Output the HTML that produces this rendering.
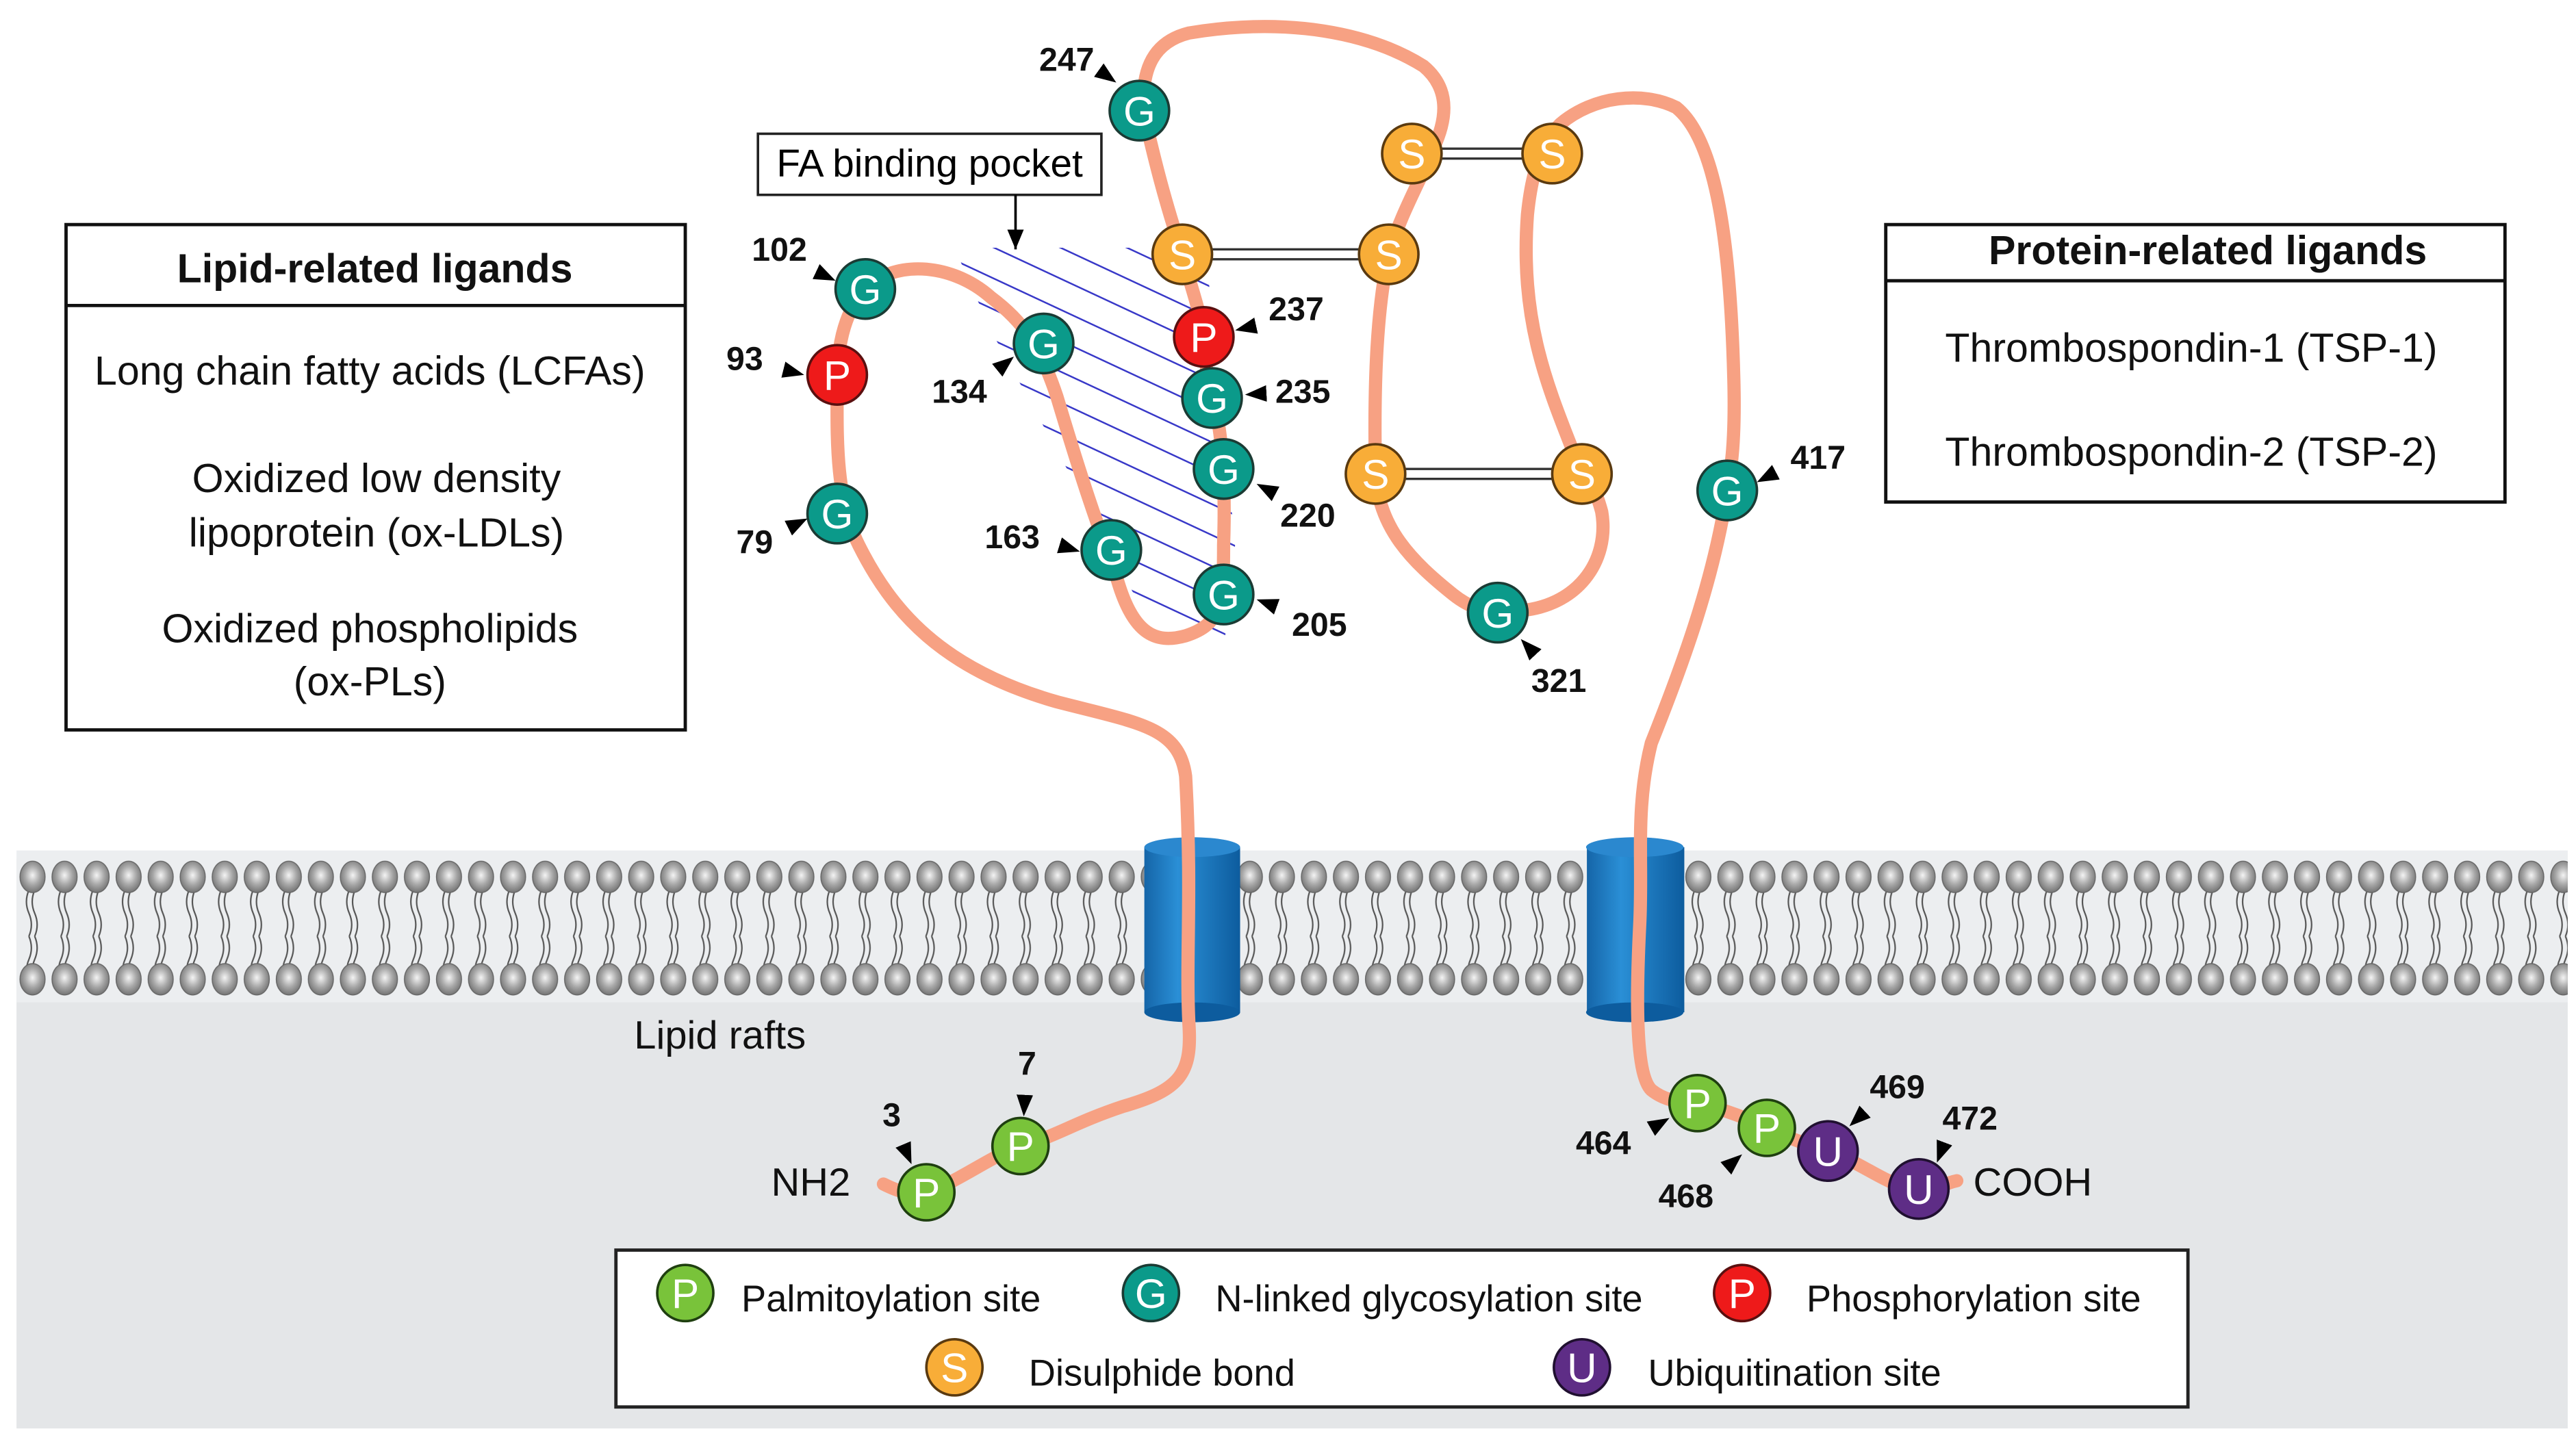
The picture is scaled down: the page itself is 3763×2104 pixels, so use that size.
<!DOCTYPE html>
<html><head><meta charset="utf-8"><style>html,body{margin:0;padding:0;background:#fff}svg{display:block}</style></head>
<body>
<svg width="3763" height="2104" viewBox="0 0 1560 872" preserveAspectRatio="none" xmlns="http://www.w3.org/2000/svg" font-family="'Liberation Sans', Arial, sans-serif">
<defs>
<radialGradient id="hd" cx="0.5" cy="0.45" r="0.6"><stop offset="0" stop-color="#f4f4f4"/><stop offset="0.5" stop-color="#a8a8a8"/><stop offset="1" stop-color="#6a6a6a"/></radialGradient>
<pattern id="mem" x="10" y="515" width="19.4" height="92" patternUnits="userSpaceOnUse">
<path d="M7.5,24 q-3,7 0,14 t0,14 M11,24 q-3,7 0,14 t0,14 M7.5,52 q3,7 0,14 t0,14 M11,52 q3,7 0,14 t0,14" fill="none" stroke="#555" stroke-width="0.9"/>
<ellipse cx="9.7" cy="16" rx="7.6" ry="9.5" fill="url(#hd)" stroke="#666" stroke-width="0.6"/>
<ellipse cx="9.7" cy="78" rx="7.6" ry="9.5" fill="url(#hd)" stroke="#666" stroke-width="0.6"/>
</pattern>
<linearGradient id="cyl" x1="0" x2="1"><stop offset="0" stop-color="#1565a8"/><stop offset="0.35" stop-color="#2a8fd6"/><stop offset="1" stop-color="#0d5c9e"/></linearGradient>
<marker id="ar" markerUnits="userSpaceOnUse" markerWidth="13" markerHeight="10" refX="13" refY="5" orient="auto"><path d="M0,0 L13,5 L0,10 z" fill="#000"/></marker>
<marker id="ar2" markerUnits="userSpaceOnUse" markerWidth="12" markerHeight="10" refX="12" refY="5" orient="auto"><path d="M0,0 L12,5 L0,10 z" fill="#000"/></marker>
<pattern id="hat" width="400" height="17" patternUnits="userSpaceOnUse" patternTransform="rotate(25)"><line x1="0" y1="0.5" x2="400" y2="0.5" stroke="#3838c8" stroke-width="1"/></pattern>
<clipPath id="pk"><polygon points="578,150 730,150 748,330 742,385 700,385 655,300 600,200"/></clipPath>
</defs>

<rect x="10" y="520" width="1545" height="345" fill="#e4e6e8"/>
<rect x="10" y="515" width="1545" height="92" fill="#eceef0"/>
<rect x="10" y="515" width="1545" height="92" fill="url(#mem)"/>

<rect x="560" y="140" width="200" height="260" fill="url(#hat)" clip-path="url(#pk)"/>

<g>
<rect x="693" y="513" width="58" height="100" fill="url(#cyl)"/>
<ellipse cx="722" cy="613" rx="29" ry="6" fill="#0d5c9e"/>
<ellipse cx="722" cy="513" rx="29" ry="6" fill="#2b88cf"/>
<rect x="961" y="513" width="59" height="100" fill="url(#cyl)"/>
<ellipse cx="990" cy="613" rx="29.5" ry="6" fill="#0d5c9e"/>
<ellipse cx="990" cy="513" rx="29.5" ry="6" fill="#2b88cf"/>
</g>

<path d="M535,717 C545,722 552,724 561,722 C580,716 600,700 618,694 C640,688 650,680 680,670 C715,660 722,650 720,620 C718,580 722,540 718,470 C714,440 690,438 640,425 C570,405 540,370 520,330 C505,300 507,260 507,227 C508,200 515,185 524,175 C540,158 575,158 600,180 C620,195 630,210 640,240 C655,290 665,320 675,345 C685,385 700,390 718,385 C740,378 741,365 741,330 C742,300 741,260 734,241 C730,225 730,215 729,204 C726,185 720,170 716,154 C705,120 700,100 693,70 C690,40 700,25 720,20 C780,10 830,20 862,40 C880,55 875,75 868,90 C860,110 848,130 841,154 C833,190 832,240 833,287 C835,320 855,340 880,360 C895,372 905,370 918,370 C955,368 975,340 970,310 C966,295 962,290 958,287 C940,240 920,200 925,130 C928,100 935,85 945,75 C965,58 995,55 1015,65 C1040,85 1048,150 1050,230 C1051,270 1048,285 1046,297 C1038,350 1020,400 1000,450 C990,490 995,520 993,560 C991,600 990,650 1000,660 C1010,668 1020,667 1028,668 C1045,672 1060,678 1070,683 C1085,690 1097,694 1107,697 C1130,705 1145,720 1162,720 C1172,720 1180,716 1185,715" fill="none" stroke="#f7a183" stroke-width="8" stroke-linecap="round"/>

<g stroke="#333" stroke-width="1.4">
<line x1="855" y1="90" x2="940" y2="90"/><line x1="855" y1="96" x2="940" y2="96"/>
<line x1="716" y1="151" x2="841" y2="151"/><line x1="716" y1="157" x2="841" y2="157"/>
<line x1="833" y1="284" x2="958" y2="284"/><line x1="833" y1="290" x2="958" y2="290"/>
</g>

<g font-size="25" text-anchor="middle" fill="#fff">
<g stroke="#1b3b34" stroke-width="1.5">
<circle cx="690" cy="67" r="18" fill="#0b9a8a"/>
<circle cx="524" cy="175" r="18" fill="#0b9a8a"/>
<circle cx="632" cy="208" r="18" fill="#0b9a8a"/>
<circle cx="507" cy="311" r="18" fill="#0b9a8a"/>
<circle cx="734" cy="241" r="18" fill="#0b9a8a"/>
<circle cx="741" cy="284" r="18" fill="#0b9a8a"/>
<circle cx="673" cy="333" r="18" fill="#0b9a8a"/>
<circle cx="741" cy="360" r="18" fill="#0b9a8a"/>
<circle cx="907" cy="371" r="18" fill="#0b9a8a"/>
<circle cx="1046" cy="297" r="18" fill="#0b9a8a"/>
<circle cx="507" cy="227" r="18" fill="#ee1a1a" stroke="#5a1010"/>
<circle cx="729" cy="204" r="18" fill="#ee1a1a" stroke="#5a1010"/>
<circle cx="855" cy="93" r="18" fill="#f8ad38" stroke="#5a3a10"/>
<circle cx="940" cy="93" r="18" fill="#f8ad38" stroke="#5a3a10"/>
<circle cx="716" cy="154" r="18" fill="#f8ad38" stroke="#5a3a10"/>
<circle cx="841" cy="154" r="18" fill="#f8ad38" stroke="#5a3a10"/>
<circle cx="833" cy="287" r="18" fill="#f8ad38" stroke="#5a3a10"/>
<circle cx="958" cy="287" r="18" fill="#f8ad38" stroke="#5a3a10"/>
<circle cx="561" cy="722" r="17" fill="#79c33a" stroke="#1f3f10"/>
<circle cx="618" cy="694" r="17" fill="#79c33a" stroke="#1f3f10"/>
<circle cx="1028" cy="668" r="17" fill="#79c33a" stroke="#1f3f10"/>
<circle cx="1070" cy="683" r="17" fill="#79c33a" stroke="#1f3f10"/>
<circle cx="1107" cy="697" r="18" fill="#5e2d86" stroke="#201030"/>
<circle cx="1162" cy="720" r="18" fill="#5e2d86" stroke="#201030"/>
</g>
<text x="690" y="76">G</text><text x="524" y="184">G</text><text x="632" y="217">G</text><text x="507" y="320">G</text>
<text x="734" y="250">G</text><text x="741" y="293">G</text><text x="673" y="342">G</text><text x="741" y="369">G</text>
<text x="907" y="380">G</text><text x="1046" y="306">G</text>
<text x="507" y="236">P</text><text x="729" y="213">P</text>
<text x="855" y="102">S</text><text x="940" y="102">S</text><text x="716" y="163">S</text><text x="841" y="163">S</text><text x="833" y="296">S</text><text x="958" y="296">S</text>
<text x="561" y="731">P</text><text x="618" y="703">P</text><text x="1028" y="677">P</text><text x="1070" y="692">P</text>
<text x="1107" y="706">U</text><text x="1162" y="729">U</text>
</g>

<g font-size="20" font-weight="bold" text-anchor="middle" fill="#111">
<text x="646" y="43">247</text><text x="472" y="158">102</text><text x="451" y="224">93</text><text x="457" y="335">79</text>
<text x="581" y="244">134</text><text x="613" y="332">163</text><text x="785" y="194">237</text><text x="789" y="244">235</text>
<text x="792" y="319">220</text><text x="799" y="385">205</text><text x="944" y="419">321</text><text x="1101" y="284">417</text>
<text x="540" y="682">3</text><text x="622" y="651">7</text><text x="971" y="699">464</text><text x="1021" y="731">468</text>
<text x="1149" y="665">469</text><text x="1193" y="684">472</text>
</g>
<g stroke="none" fill="none">
<path d="M662,40 L676,50" marker-end="url(#ar)"/><path d="M489,162 L506,170" marker-end="url(#ar)"/><path d="M467,222 L487,227" marker-end="url(#ar)"/>
<path d="M471,323 L489,314" marker-end="url(#ar)"/><path d="M598,229 L614,216" marker-end="url(#ar)"/><path d="M631,327 L654,334" marker-end="url(#ar)"/>
<path d="M766,196 L748,200" marker-end="url(#ar)"/><path d="M772,238 L754,239" marker-end="url(#ar)"/><path d="M778,302 L761,293" marker-end="url(#ar)"/>
<path d="M783,371 L761,363" marker-end="url(#ar)"/><path d="M934,401 L921,387" marker-end="url(#ar)"/><path d="M1083,282 L1064,292" marker-end="url(#ar)"/>
<path d="M544,686 L552,705" marker-end="url(#ar)"/><path d="M621,655 L620,676" marker-end="url(#ar)"/><path d="M992,688 L1011,677" marker-end="url(#ar)"/>
<path d="M1040,712 L1055,699" marker-end="url(#ar)"/><path d="M1135,668 L1120,682" marker-end="url(#ar)"/><path d="M1179,688 L1173,704" marker-end="url(#ar)"/>
</g>

<rect x="459" y="81" width="208" height="37" fill="#fff" stroke="#222" stroke-width="1.5"/>
<text x="563" y="107" font-size="23.5" text-anchor="middle">FA binding pocket</text>
<line x1="615" y1="118" x2="615" y2="151" stroke="#000" stroke-width="1.5" marker-end="url(#ar2)"/>

<rect x="40" y="136" width="375" height="306" fill="#fff" stroke="#111" stroke-width="2"/>
<line x1="40" y1="185" x2="415" y2="185" stroke="#111" stroke-width="2"/>
<g font-size="24.5" text-anchor="middle" fill="#111">
<text x="227" y="171" font-weight="bold">Lipid-related ligands</text>
<text x="224" y="233">Long chain fatty acids (LCFAs)</text>
<text x="228" y="298">Oxidized low density</text>
<text x="228" y="331">lipoprotein (ox-LDLs)</text>
<text x="224" y="389">Oxidized phospholipids</text>
<text x="224" y="421">(ox-PLs)</text>
</g>

<rect x="1142" y="136" width="375" height="168" fill="#fff" stroke="#111" stroke-width="2"/>
<line x1="1142" y1="170" x2="1517" y2="170" stroke="#111" stroke-width="2"/>
<g font-size="24.5" text-anchor="middle" fill="#111">
<text x="1337" y="160" font-weight="bold">Protein-related ligands</text>
<text x="1327" y="219">Thrombospondin-1 (TSP-1)</text>
<text x="1327" y="282">Thrombospondin-2 (TSP-2)</text>
</g>

<g font-size="24" fill="#111">
<text x="384" y="635">Lipid rafts</text>
<text x="467" y="724">NH2</text>
<text x="1195" y="724">COOH</text>
</g>

<rect x="373" y="757" width="952" height="95" fill="#fff" stroke="#222" stroke-width="2"/>
<g stroke-width="1.5" font-size="25" text-anchor="middle">
<circle cx="415" cy="783" r="17" fill="#79c33a" stroke="#1f3f10"/>
<circle cx="697" cy="783" r="17" fill="#0b9a8a" stroke="#1b3b34"/>
<circle cx="1055" cy="783" r="17" fill="#ee1a1a" stroke="#5a1010"/>
<circle cx="578" cy="828" r="17" fill="#f8ad38" stroke="#5a3a10"/>
<circle cx="958" cy="828" r="17" fill="#5e2d86" stroke="#201030"/>
<g fill="#fff" stroke="none">
<text x="415" y="792">P</text><text x="697" y="792">G</text><text x="1055" y="792">P</text><text x="578" y="837">S</text><text x="958" y="837">U</text>
</g>
</g>
<g font-size="22.5" fill="#111">
<text x="449" y="794">Palmitoylation site</text>
<text x="736" y="794">N-linked glycosylation site</text>
<text x="1094" y="794">Phosphorylation site</text>
<text x="623" y="839">Disulphide bond</text>
<text x="998" y="839">Ubiquitination site</text>
</g>
</svg>
</body></html>
